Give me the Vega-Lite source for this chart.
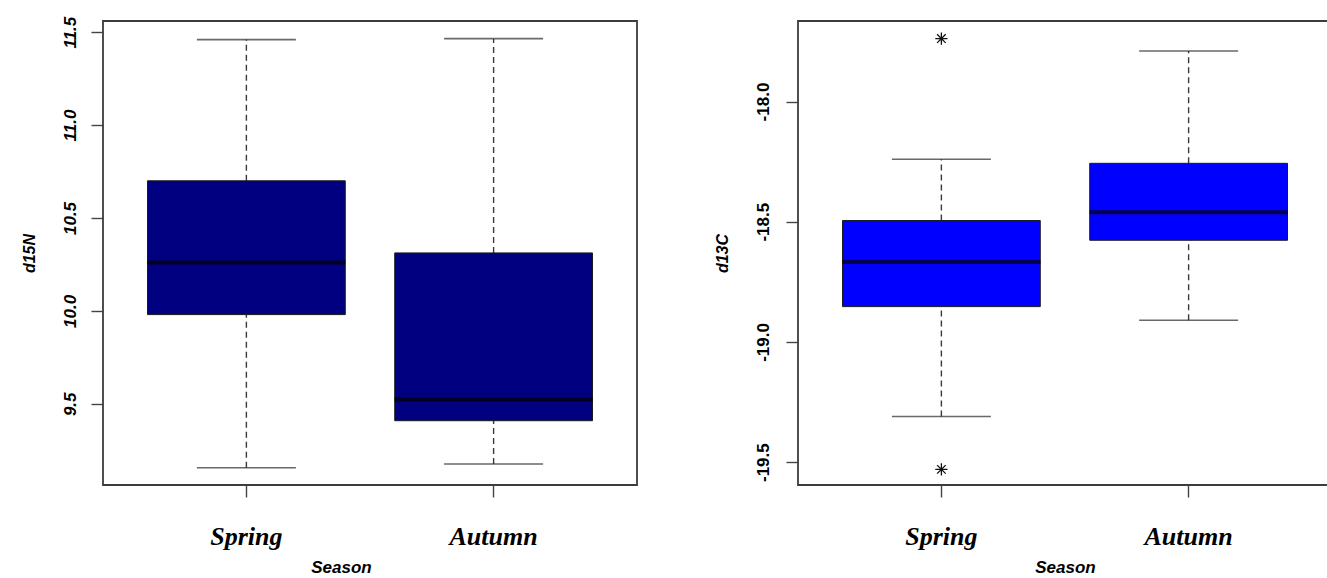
{
  "$schema": "https://vega.github.io/schema/vega-lite/v6.json",
  "background": "white",
  "padding": {"left": 20, "top": 15, "right": 0, "bottom": 0},
  "spacing": 75,
  "datasets": {
    "n15": [
      {"Season": "Spring", "lower": 9.156, "q1": 9.98, "median": 10.26, "q3": 10.70, "upper": 11.46},
      {"Season": "Autumn", "lower": 9.176, "q1": 9.409, "median": 9.523, "q3": 10.312, "upper": 11.465}
    ],
    "c13": [
      {"Season": "Spring", "lower": -19.31, "q1": -18.853, "median": -18.667, "q3": -18.495, "upper": -18.24},
      {"Season": "Autumn", "lower": -18.91, "q1": -18.577, "median": -18.461, "q3": -18.257, "upper": -17.79}
    ],
    "c13out": [
      {"Season": "Spring", "value": -17.738},
      {"Season": "Spring", "value": -19.53}
    ]
  },
  "hconcat": [
    {
      "width": 534,
      "height": 464,
      "data": {"name": "n15"},
      "encoding": {
        "x": {
          "field": "Season", "type": "nominal", "sort": ["Spring", "Autumn"],
          "scale": {"paddingInner": 0, "paddingOuter": 0.08},
          "axis": {"title": "Season", "titleX": 238}
        }
      },
      "layer": [
        {
          "mark": {"type": "rule", "strokeDash": [6, 4], "color": "#3a3a3a", "strokeWidth": 1.4},
          "encoding": {
            "y": {"field": "q3", "type": "quantitative", "title": "d15N",
                  "scale": {"domain": [9.063, 11.56], "nice": false, "zero": false},
                  "axis": {"values": [9.5, 10, 10.5, 11, 11.5], "format": ".1f", "labelFontStyle": "italic", "labelFontSize": 17, "labelPadding": 12}},
            "y2": {"field": "upper"}
          }
        },
        {
          "mark": {"type": "rule", "strokeDash": [6, 4], "color": "#3a3a3a", "strokeWidth": 1.4},
          "encoding": {"y": {"field": "lower", "type": "quantitative", "title": "d15N",
                  "axis": {"values": [9.5, 10, 10.5, 11, 11.5], "format": ".1f", "labelFontStyle": "italic", "labelFontSize": 17, "labelPadding": 12}}, "y2": {"field": "q1"}}
        },
        {
          "mark": {"type": "tick", "orient": "horizontal", "size": 99, "thickness": 1.6, "color": "#2a2a2a"},
          "encoding": {"y": {"field": "upper", "type": "quantitative", "title": "d15N",
                  "axis": {"values": [9.5, 10, 10.5, 11, 11.5], "format": ".1f", "labelFontStyle": "italic", "labelFontSize": 17, "labelPadding": 12}}}
        },
        {
          "mark": {"type": "tick", "orient": "horizontal", "size": 99, "thickness": 1.6, "color": "#2a2a2a"},
          "encoding": {"y": {"field": "lower", "type": "quantitative", "title": "d15N",
                  "axis": {"values": [9.5, 10, 10.5, 11, 11.5], "format": ".1f", "labelFontStyle": "italic", "labelFontSize": 17, "labelPadding": 12}}}
        },
        {
          "mark": {"type": "bar", "width": {"band": 0.8}, "fill": "#000080", "stroke": "#1a1a1a", "strokeWidth": 1},
          "encoding": {"y": {"field": "q1", "type": "quantitative", "title": "d15N",
                  "axis": {"values": [9.5, 10, 10.5, 11, 11.5], "format": ".1f", "labelFontStyle": "italic", "labelFontSize": 17, "labelPadding": 12}}, "y2": {"field": "q3"}}
        },
        {
          "mark": {"type": "tick", "orient": "horizontal", "size": 198, "thickness": 4, "color": "#000000"},
          "encoding": {"y": {"field": "median", "type": "quantitative", "title": "d15N",
                  "axis": {"values": [9.5, 10, 10.5, 11, 11.5], "format": ".1f", "labelFontStyle": "italic", "labelFontSize": 17, "labelPadding": 12}}}
        }
      ]
    },
    {
      "width": 534,
      "height": 464,
      "encoding": {
        "x": {
          "field": "Season", "type": "nominal", "sort": ["Spring", "Autumn"],
          "scale": {"paddingInner": 0, "paddingOuter": 0.08},
          "axis": {"title": "Season"}
        }
      },
      "layer": [
        {
          "data": {"name": "c13"},
          "mark": {"type": "rule", "strokeDash": [6, 4], "color": "#3a3a3a", "strokeWidth": 1.4},
          "encoding": {
            "y": {"field": "q3", "type": "quantitative", "title": "d13C",
                  "scale": {"domain": [-19.595, -17.665], "nice": false, "zero": false},
                  "axis": {"values": [-19.5, -19, -18.5, -18], "labelExpr": "replace(format(datum.value, '.1f'), '\u2212', '-')", "labelFontSize": 17, "labelPadding": 14}},
            "y2": {"field": "upper"}
          }
        },
        {
          "data": {"name": "c13"},
          "mark": {"type": "rule", "strokeDash": [6, 4], "color": "#3a3a3a", "strokeWidth": 1.4},
          "encoding": {"y": {"field": "lower", "type": "quantitative", "title": "d13C",
                  "axis": {"values": [-19.5, -19, -18.5, -18], "labelExpr": "replace(format(datum.value, '.1f'), '\u2212', '-')", "labelFontSize": 17, "labelPadding": 14}}, "y2": {"field": "q1"}}
        },
        {
          "data": {"name": "c13"},
          "mark": {"type": "tick", "orient": "horizontal", "size": 99, "thickness": 1.6, "color": "#2a2a2a"},
          "encoding": {"y": {"field": "upper", "type": "quantitative", "title": "d13C",
                  "axis": {"values": [-19.5, -19, -18.5, -18], "labelExpr": "replace(format(datum.value, '.1f'), '\u2212', '-')", "labelFontSize": 17, "labelPadding": 14}}}
        },
        {
          "data": {"name": "c13"},
          "mark": {"type": "tick", "orient": "horizontal", "size": 99, "thickness": 1.6, "color": "#2a2a2a"},
          "encoding": {"y": {"field": "lower", "type": "quantitative", "title": "d13C",
                  "axis": {"values": [-19.5, -19, -18.5, -18], "labelExpr": "replace(format(datum.value, '.1f'), '\u2212', '-')", "labelFontSize": 17, "labelPadding": 14}}}
        },
        {
          "data": {"name": "c13"},
          "mark": {"type": "bar", "width": {"band": 0.8}, "fill": "#0000FF", "stroke": "#1a1a1a", "strokeWidth": 1},
          "encoding": {"y": {"field": "q1", "type": "quantitative", "title": "d13C",
                  "axis": {"values": [-19.5, -19, -18.5, -18], "labelExpr": "replace(format(datum.value, '.1f'), '\u2212', '-')", "labelFontSize": 17, "labelPadding": 14}}, "y2": {"field": "q3"}}
        },
        {
          "data": {"name": "c13"},
          "mark": {"type": "tick", "orient": "horizontal", "size": 198, "thickness": 4, "color": "#000000"},
          "encoding": {"y": {"field": "median", "type": "quantitative", "title": "d13C",
                  "axis": {"values": [-19.5, -19, -18.5, -18], "labelExpr": "replace(format(datum.value, '.1f'), '\u2212', '-')", "labelFontSize": 17, "labelPadding": 14}}}
        },
        {
          "data": {"name": "c13out"},
          "mark": {"type": "point", "shape": "M-1,0L1,0M0,-1L0,1M-0.7,-0.7L0.7,0.7M-0.7,0.7L0.7,-0.7", "filled": false, "stroke": "#111111", "strokeWidth": 1.3, "size": 150, "opacity": 1},
          "encoding": {"y": {"field": "value", "type": "quantitative", "title": "d13C",
                  "axis": {"values": [-19.5, -19, -18.5, -18], "labelExpr": "replace(format(datum.value, '.1f'), '\u2212', '-')", "labelFontSize": 17, "labelPadding": 14}}}
        }
      ]
    }
  ],
  "config": {
    "view": {"stroke": "#3c3c3c", "strokeWidth": 1.8},
    "axis": {
      "domain": false,
      "grid": false,
      "tickSize": 12,
      "tickColor": "#444444",
      "tickWidth": 1.4,
      "labelColor": "#000000",
      "titleColor": "#000000"
    },
    "axisX": {
      "labelAngle": 0,
      "labelFont": "Liberation Serif",
      "labelFontSize": 26,
      "labelFontWeight": "bold",
      "labelFontStyle": "italic",
      "labelPadding": 26,
      "titleFont": "Liberation Sans",
      "titleFontSize": 17,
      "titleFontWeight": "bold",
      "titleFontStyle": "italic",
      "titlePadding": 10
    },
    "axisY": {
      "labelAngle": -90,
      "labelAlign": "center",
      "labelBaseline": "bottom",
      "labelFont": "Liberation Sans",
      "labelFontWeight": "bold",
      "titleFont": "Liberation Sans",
      "titleFontSize": 16,
      "titleFontWeight": "bold",
      "titleFontStyle": "italic",
      "titlePadding": 24
    }
  }
}
